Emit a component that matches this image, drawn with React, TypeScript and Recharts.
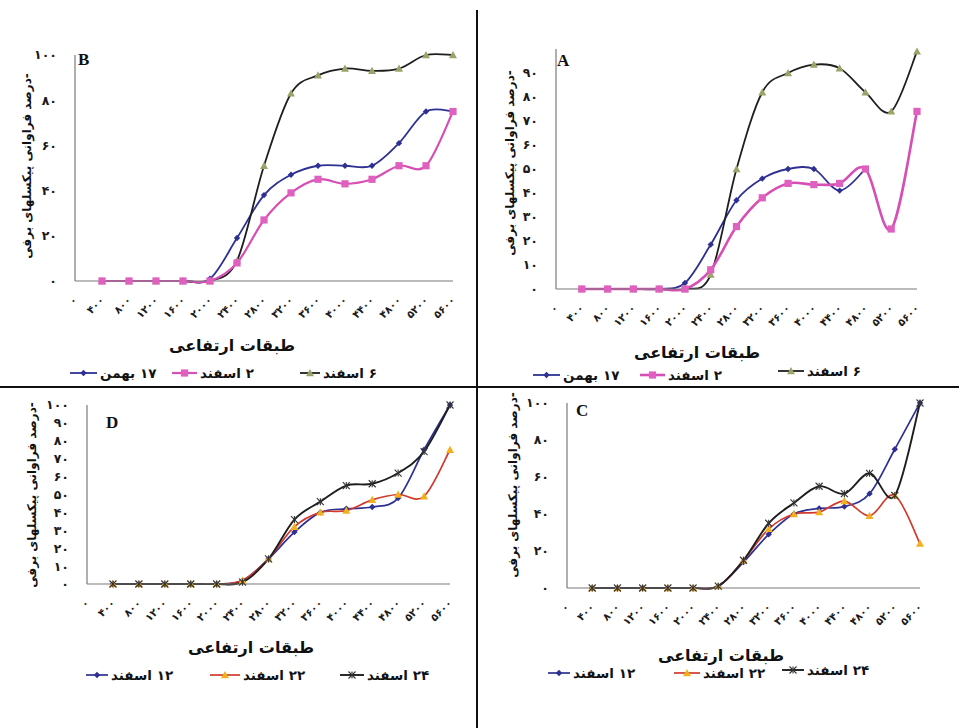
import React from 'react';
import { LineChart, Line, XAxis, YAxis } from 'recharts';

// altitude classes (m) that carry data; 0 is only an axis tick
const altitudes = [400, 800, 1200, 1600, 2000, 2400, 2800, 3200, 3600, 4000, 4400, 4800, 5200, 5600];
const xTicks = [0, 400, 800, 1200, 1600, 2000, 2400, 2800, 3200, 3600, 4000, 4400, 4800, 5200, 5600];

// panel B
const bBahman17 = [0, 0, 0, 0, 1, 19, 38, 47, 51, 51, 51, 61, 75, 75];
const bEsfand2 = [0, 0, 0, 0, 0, 8, 27, 39, 45, 43, 45, 51, 51, 75];
const bEsfand6 = [0, 0, 0, 0, 0, 9, 51, 83, 91, 94, 93, 94, 100, 100];

// panel A
const aBahman17 = [0, 0, 0, 0, 2.5, 18.5, 37, 46, 50, 50, 41, 50, null, null];
const aEsfand2 = [0, 0, 0, 0, 0, 8, 26, 38, 44, 43.5, 44, 50, 25, 74];
const aEsfand6 = [0, 0, 0, 0, 0, 6, 50, 82, 90, 93.5, 92, 82, 74, 99];

// panel D
const dEsfand12 = [0, 0, 0, 0, 0, 2, 14, 29, 40, 42, 43, 48, 75, 100];
const dEsfand22 = [0, 0, 0, 0, 0, 2, 14, 32, 40, 41, 47, 50, 49, 75];
const dEsfand24 = [0, 0, 0, 0, 0, 1, 14, 36, 46, 55, 56, 62, 74, 100];

// panel C
const cEsfand12 = [0, 0, 0, 0, 0, 1, 14, 29, 40, 43, 44, 51, 75, 100];
const cEsfand22 = [0, 0, 0, 0, 0, 1, 15, 32, 40, 41, 47, 39, 50, 24];
const cEsfand24 = [0, 0, 0, 0, 0, 1, 15, 35, 46, 55, 51, 62, 50, 100];

const yTicks20 = [0, 20, 40, 60, 80, 100];
const yTicks10 = [0, 10, 20, 30, 40, 50, 60, 70, 80, 90, 100];
const yTicks10no100 = [0, 10, 20, 30, 40, 50, 60, 70, 80, 90];

const yTitle = '-درصد فراوانی پیکسلهای برفی';
const xTitle = 'طبقات ارتفاعی';

const FONT = '"DejaVu Sans", sans-serif';
const faDigits = '۰۱۲۳۴۵۶۷۸۹';
const fa = (v: number | string) => String(v).replace(/\d/g, (d) => faDigits[Number(d)]);

const NAVY = '#2E3192';
const PINK = '#D64FB4';
const DARK = '#1E1E1E';
const OLIVE = '#9CA36A';
const RED = '#D23A2E';
const YELLOW = '#F2B01E';

// Excel-like smoothed line (Catmull-Rom through the points)
function excelCurve(context: any) {
  let pts: number[][] = [];
  return {
    areaStart() {},
    areaEnd() {},
    lineStart() {
      pts = [];
    },
    point(x: number, y: number) {
      pts.push([+x, +y]);
    },
    lineEnd() {
      const n = pts.length;
      if (!n) return;
      context.moveTo(pts[0][0], pts[0][1]);
      for (let i = 0; i < n - 1; i++) {
        const p0 = pts[Math.max(0, i - 1)];
        const p1 = pts[i];
        const p2 = pts[i + 1];
        const p3 = pts[Math.min(n - 1, i + 2)];
        context.bezierCurveTo(
          p1[0] + (p2[0] - p0[0]) / 6,
          p1[1] + (p2[1] - p0[1]) / 6,
          p2[0] - (p3[0] - p1[0]) / 6,
          p2[1] - (p3[1] - p1[1]) / 6,
          p2[0],
          p2[1]
        );
      }
    },
  };
}

type Shape = 'diamond' | 'square' | 'triangle' | 'star';

function Marker({ cx, cy, shape, color }: { cx: number; cy: number; shape: Shape; color: string }) {
  if (cx == null || cy == null) return null;
  if (shape === 'diamond') {
    const s = 3.2;
    return <polygon points={`${cx},${cy - s} ${cx + s},${cy} ${cx},${cy + s} ${cx - s},${cy}`} fill={color} />;
  }
  if (shape === 'square') {
    const s = 3.6;
    return <rect x={cx - s} y={cy - s} width={s * 2} height={s * 2} fill={color} />;
  }
  if (shape === 'triangle') {
    const s = 4;
    return <polygon points={`${cx},${cy - s} ${cx + s},${cy + s * 0.8} ${cx - s},${cy + s * 0.8}`} fill={color} />;
  }
  const s = 3.5;
  return (
    <g stroke={color} strokeWidth={1.1}>
      <line x1={cx - s} y1={cy - s} x2={cx + s} y2={cy + s} />
      <line x1={cx - s} y1={cy + s} x2={cx + s} y2={cy - s} />
      <line x1={cx} y1={cy - s} x2={cx} y2={cy + s} />
    </g>
  );
}

type Series = { name: string; values: (number | null)[]; color: string; width: number; shape: Shape; markerColor: string };

type PanelProps = {
  letter: string;
  plot: { left: number; top: number; w: number; h: number };
  yTicks: number[];
  draw: Series[]; // in drawing order
  legend: { s: Series; x: number; y: number; lineW: number }[];
  yTitlePos: { x: number; y: number };
  xTitlePos: { x: number; y: number };
  letterPos: { x: number; y: number };
};

function XTick(props: any) {
  const { x, y, payload } = props;
  return (
    <text
      x={x}
      y={y}
      transform={`rotate(-45 ${x} ${y})`}
      textAnchor="end"
      dominantBaseline="central"
      fontSize={10.5}
      fontWeight="bold"
      fontFamily={FONT}
      fill="#1a1a1a"
    >
      {fa(payload.value)}
    </text>
  );
}

function LegendIcon({ s, lineW }: { s: Series; lineW: number }) {
  return (
    <svg width={lineW} height={10} style={{ display: 'block' }}>
      <line x1={0} y1={5} x2={lineW} y2={5} stroke={s.color} strokeWidth={s.width} />
      <Marker cx={lineW / 2} cy={5} shape={s.shape} color={s.markerColor} />
    </svg>
  );
}

function Panel(p: PanelProps) {
  const rows = altitudes.map((alt, i) => {
    const row: any = { alt };
    p.draw.forEach((s, k) => {
      row['s' + k] = s.values[i];
    });
    return row;
  });
  const boxLeft = p.plot.left - 40;
  const boxTop = p.plot.top - 10;
  return (
    <>
      <div style={{ position: 'absolute', left: boxLeft, top: boxTop }}>
        <LineChart
          width={p.plot.w + 50}
          height={p.plot.h + 70}
          data={rows}
          margin={{ top: 10, right: 10, left: 0, bottom: 0 }}
          style={{ overflow: 'visible' }}
        >
          <XAxis
            dataKey="alt"
            type="number"
            domain={[0, 5600]}
            ticks={xTicks}
            interval={0}
            height={60}
            axisLine={{ stroke: '#7a7a7a', strokeWidth: 1.2 }}
            tickLine={false}
            tickSize={0}
            tickMargin={17}
            tick={(t: any) => <XTick {...t} />}
          />
          <YAxis
            type="number"
            domain={[0, 100]}
            ticks={p.yTicks}
            interval={0}
            width={40}
            axisLine={{ stroke: '#7a7a7a', strokeWidth: 1.2 }}
            tickLine={false}
            tickSize={0}
            tickMargin={18}
            tickFormatter={fa}
            tick={{ fontSize: 12.5, fontWeight: 'bold', fill: '#1a1a1a', fontFamily: FONT }}
          />
          {p.draw.map((s, k) => (
            <Line
              key={s.name}
              dataKey={'s' + k}
              type={excelCurve as any}
              stroke={s.color}
              strokeWidth={s.width}
              dot={(d: any) => <Marker key={`m-${k}-${d.index}`} cx={d.cx} cy={d.cy} shape={s.shape} color={s.markerColor} />}
              activeDot={false}
              isAnimationActive={false}
              connectNulls={false}
            />
          ))}
        </LineChart>
      </div>
      <div
        style={{
          position: 'absolute',
          left: p.letterPos.x,
          top: p.letterPos.y,
          fontFamily: '"Liberation Serif", serif',
          fontWeight: 'bold',
          fontSize: 17,
          lineHeight: '17px',
          color: '#111',
        }}
      >
        {p.letter}
      </div>
      <div
        dir="rtl"
        style={{
          position: 'absolute',
          left: p.yTitlePos.x,
          top: p.yTitlePos.y,
          transform: 'translate(-50%, -50%) rotate(-90deg)',
          whiteSpace: 'nowrap',
          fontFamily: FONT,
          fontWeight: 'bold',
          fontSize: 12,
          color: '#111',
        }}
      >
        {yTitle}
      </div>
      <div
        dir="rtl"
        style={{
          position: 'absolute',
          left: p.xTitlePos.x,
          top: p.xTitlePos.y,
          transform: 'translate(-50%, -50%)',
          whiteSpace: 'nowrap',
          fontFamily: FONT,
          fontWeight: 'bold',
          fontSize: 16,
          color: '#111',
        }}
      >
        {xTitle}
      </div>
      {p.legend.map((l) => (
        <div
          key={l.s.name}
          style={{
            position: 'absolute',
            left: l.x,
            top: l.y,
            transform: 'translateY(-50%)',
            display: 'flex',
            alignItems: 'center',
            gap: 3,
            whiteSpace: 'nowrap',
          }}
        >
          <LegendIcon s={l.s} lineW={l.lineW} />
          <span dir="rtl" style={{ fontFamily: FONT, fontWeight: 'bold', fontSize: 13.5, color: '#111' }}>
            {l.s.name}
          </span>
        </div>
      ))}
    </>
  );
}

const B17: Series = { name: '۱۷ بهمن', values: bBahman17, color: NAVY, width: 1.8, shape: 'diamond', markerColor: NAVY };
const B2: Series = { name: '۲ اسفند', values: bEsfand2, color: PINK, width: 2.2, shape: 'square', markerColor: '#E060C0' };
const B6: Series = { name: '۶ اسفند', values: bEsfand6, color: DARK, width: 1.8, shape: 'triangle', markerColor: OLIVE };

const A17: Series = { ...B17, values: aBahman17 };
const A2: Series = { ...B2, values: aEsfand2, width: 2.6 };
const A6: Series = { ...B6, values: aEsfand6 };

const D12: Series = { name: '۱۲ اسفند', values: dEsfand12, color: NAVY, width: 1.7, shape: 'diamond', markerColor: NAVY };
const D22: Series = { name: '۲۲ اسفند', values: dEsfand22, color: RED, width: 1.7, shape: 'triangle', markerColor: YELLOW };
const D24: Series = { name: '۲۴ اسفند', values: dEsfand24, color: DARK, width: 1.9, shape: 'star', markerColor: '#333' };

const C12: Series = { ...D12, values: cEsfand12 };
const C22: Series = { ...D22, values: cEsfand22 };
const C24: Series = { ...D24, values: cEsfand24 };

export default function App() {
  return (
    <div style={{ position: 'absolute', left: 0, top: 0, width: 959, height: 728, background: '#fff', overflow: 'hidden' }}>
      <Panel
        letter="B"
        plot={{ left: 75, top: 55, w: 378, h: 226 }}
        yTicks={yTicks20}
        draw={[B17, B6, B2]}
        legend={[
          { s: B17, x: 70, y: 373, lineW: 27 },
          { s: B2, x: 172, y: 373, lineW: 25 },
          { s: B6, x: 300, y: 373, lineW: 20 },
        ]}
        yTitlePos={{ x: 27, y: 166 }}
        xTitlePos={{ x: 232, y: 345 }}
        letterPos={{ x: 78, y: 51 }}
      />
      <Panel
        letter="A"
        plot={{ left: 556, top: 49, w: 361, h: 240 }}
        yTicks={yTicks10no100}
        draw={[A17, A6, A2]}
        legend={[
          { s: A17, x: 533, y: 375, lineW: 27 },
          { s: A2, x: 640, y: 375, lineW: 25 },
          { s: A6, x: 778, y: 371, lineW: 26 },
        ]}
        yTitlePos={{ x: 510, y: 163 }}
        xTitlePos={{ x: 697, y: 352 }}
        letterPos={{ x: 557, y: 52 }}
      />
      <Panel
        letter="D"
        plot={{ left: 87, top: 405, w: 363, h: 179 }}
        yTicks={yTicks10}
        draw={[D12, D22, D24]}
        legend={[
          { s: D12, x: 86, y: 675, lineW: 22 },
          { s: D22, x: 210, y: 675, lineW: 30 },
          { s: D24, x: 340, y: 675, lineW: 24 },
        ]}
        yTitlePos={{ x: 32, y: 495 }}
        xTitlePos={{ x: 251, y: 647 }}
        letterPos={{ x: 106, y: 414 }}
      />
      <Panel
        letter="C"
        plot={{ left: 567, top: 403, w: 353, h: 185 }}
        yTicks={yTicks20}
        draw={[C12, C22, C24]}
        legend={[
          { s: C12, x: 548, y: 673, lineW: 22 },
          { s: C22, x: 674, y: 673, lineW: 26 },
          { s: C24, x: 782, y: 670, lineW: 22 },
        ]}
        yTitlePos={{ x: 513, y: 485 }}
        xTitlePos={{ x: 721, y: 655 }}
        letterPos={{ x: 576, y: 402 }}
      />
      {/* panel dividers */}
      <div style={{ position: 'absolute', left: 476, top: 10, width: 2, height: 718, background: '#111' }} />
      <div style={{ position: 'absolute', left: 0, top: 386, width: 959, height: 2, background: '#111' }} />
    </div>
  );
}
